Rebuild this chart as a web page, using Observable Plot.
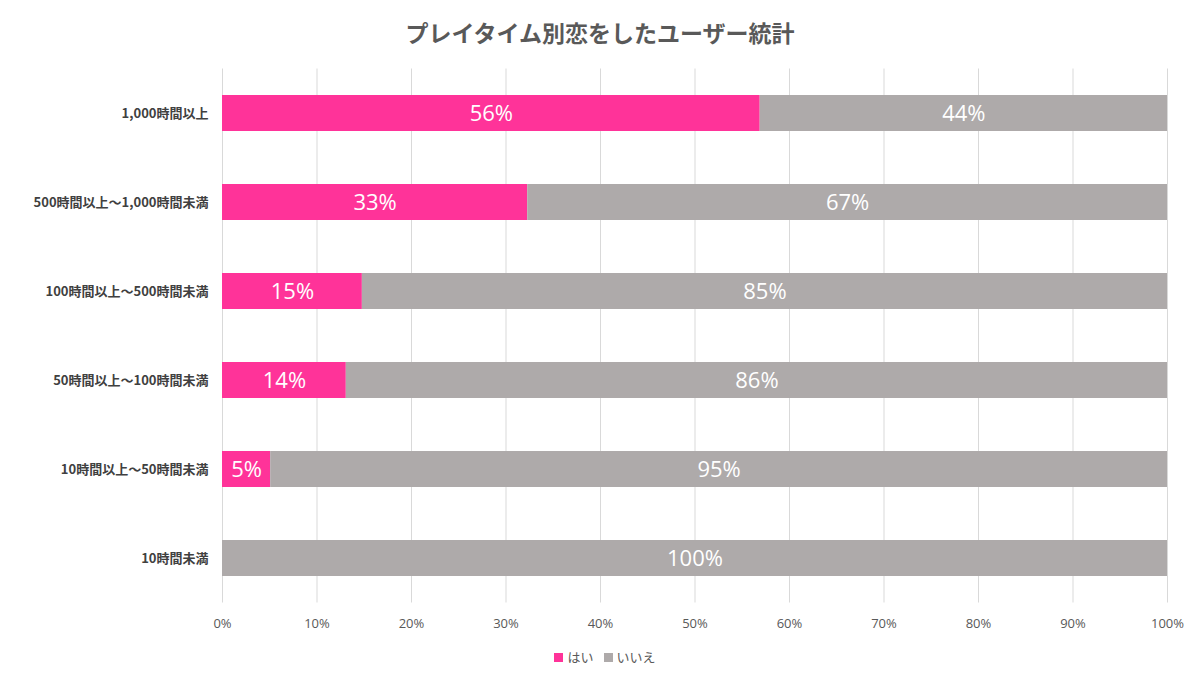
<!DOCTYPE html>
<html><head><meta charset="utf-8">
<script src="https://cdn.jsdelivr.net/npm/d3@7"></script>
<script src="https://cdn.jsdelivr.net/npm/@observablehq/plot@0.6"></script>
<style>
body{margin:0;background:#fff;font-family:"Open Sans","Noto Sans CJK JP",sans-serif;}
#title{height:60px;line-height:64px;text-align:center;font-size:23px;font-weight:bold;color:#595959;font-family:"Noto Sans CJK JP",sans-serif;}
#legend{text-align:center;font-size:13px;color:#595959;margin-top:4px;font-family:"Noto Sans CJK JP",sans-serif;}
#legend span.sw{display:inline-block;width:9px;height:9px;margin:0 4px 0 10px;}
</style></head><body>
<div id="title">プレイタイム別恋をしたユーザー統計</div>
<div id="chart"></div>
<div id="legend"><span class="sw" style="background:#FF3399"></span>はい<span class="sw" style="background:#AEAAAA"></span>いいえ</div>
<script>
const categories = ["1,000時間以上","500時間以上～1,000時間未満","100時間以上～500時間未満","50時間以上～100時間未満","10時間以上～50時間未満","10時間未満"];
const yesValues = [56.9, 32.3, 14.8, 13.1, 5.1, 0];
const yesLabels = ["56%","33%","15%","14%","5%",""];
const noLabels = ["44%","67%","85%","86%","95%","100%"];
const ticks = [0,10,20,30,40,50,60,70,80,90,100];

const rows = categories.map((c,i)=>({cat:c, yes:yesValues[i], yl:yesLabels[i], nl:noLabels[i]}));
const pink="#FF3399", gray="#AEAAAA";
const chart = Plot.plot({
  width:1200, height:583,
  marginLeft:222, marginRight:33, marginTop:8.5, marginBottom:40.5,
  style:{fontFamily:"'Open Sans','Noto Sans CJK JP',sans-serif", fontSize:"13px", color:"#595959"},
  x:{domain:[0,100], ticks:ticks, tickFormat:d=>d+"%", tickSize:0, label:null, tickPadding:14},
  y:{domain:categories, paddingInner:0.6, paddingOuter:0.3, label:null, tickSize:0, tickPadding:14},
  marks:[
    Plot.ruleX(ticks,{x:d=>d, stroke:"#D9D9D9", strokeOpacity:1}),
    Plot.barX(rows,{y:"cat", x1:0, x2:"yes", fill:pink}),
    Plot.barX(rows,{y:"cat", x1:"yes", x2:100, fill:gray}),
    Plot.text(rows.filter(d=>d.yl),{y:"cat", x:d=>d.yes/2, text:"yl", fill:"white", fontSize:22}),
    Plot.text(rows,{y:"cat", x:d=>(d.yes+100)/2, text:"nl", fill:"white", fontSize:22}),
    Plot.axisY({tickSize:0, tickPadding:14, fontWeight:"bold", fontSize:13, fontFamily:"'Noto Sans CJK JP',sans-serif", fill:"#404040"}),
    Plot.axisX({ticks:ticks, tickFormat:d=>d+"%", tickSize:0, tickPadding:16, fontSize:13, fill:"#595959"})
  ]
});
document.getElementById("chart").appendChild(chart);
</script></body></html>
